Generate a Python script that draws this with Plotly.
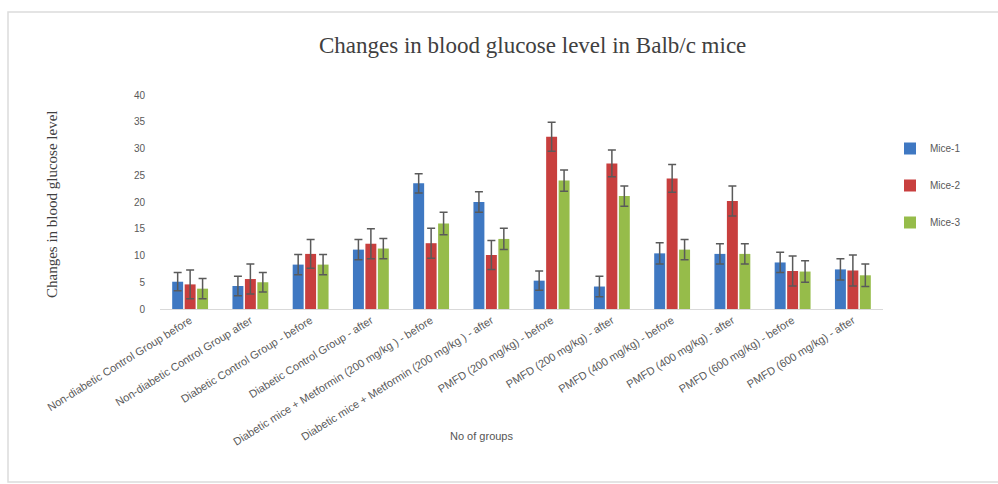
import plotly.graph_objects as go

# Treatment groups (x-axis categories)
groups = [
    "Non-diabetic Control Group before",
    "Non-diabetic Control Group after",
    "Diabetic Control Group - before",
    "Diabetic Control Group - after",
    "Diabetic mice + Metformin (200 mg/kg ) - before",
    "Diabetic mice + Metformin (200 mg/kg ) - after",
    "PMFD (200 mg/kg) - before",
    "PMFD (200 mg/kg) - after",
    "PMFD (400 mg/kg) - before",
    "PMFD (400 mg/kg) - after",
    "PMFD (600 mg/kg) - before",
    "PMFD (600 mg/kg) - after",
]

# Blood glucose changes per mouse
mice_1 = [5.1, 4.3, 8.3, 11.1, 23.5, 20.0, 5.3, 4.2, 10.4, 10.3, 8.7, 7.4]
mice_2 = [4.6, 5.6, 10.3, 12.2, 12.3, 10.1, 32.2, 27.2, 24.4, 20.2, 7.1, 7.2]
mice_3 = [3.8, 5.0, 8.3, 11.3, 16.0, 13.1, 24.0, 21.1, 11.1, 10.3, 7.0, 6.3]

# Error bar magnitudes
err_1 = [1.7, 1.8, 1.9, 1.9, 1.8, 1.9, 1.8, 1.9, 2.0, 1.9, 1.9, 2.0]
err_2 = [2.7, 2.8, 2.7, 2.8, 2.8, 2.7, 2.7, 2.5, 2.6, 2.8, 2.8, 2.9]
err_3 = [1.9, 1.8, 1.9, 1.9, 2.1, 2.0, 2.0, 1.9, 1.9, 1.9, 2.0, 2.1]

series_names = ["Mice-1", "Mice-2", "Mice-3"]
series_values = [mice_1, mice_2, mice_3]
series_errors = [err_1, err_2, err_3]
series_colors = ["#3F78C2", "#C83F3E", "#96BC4A"]

W, H = 998, 484
PLOT_L, PLOT_R, PLOT_T, PLOT_B = 160, 883, 95, 309

fig = go.Figure()
for name, vals, errs, col in zip(series_names, series_values, series_errors, series_colors):
    fig.add_trace(go.Bar(
        name=name,
        x=groups,
        y=vals,
        marker=dict(color=col, line=dict(width=0)),
        error_y=dict(type="data", array=errs, visible=True,
                     color="#5a5a5a", thickness=1.5, width=4),
        legendgroup=name,
    ))


def px_x(p):
    return (p - PLOT_L) / (PLOT_R - PLOT_L)


def px_y(p):
    return (PLOT_B - p) / (PLOT_B - PLOT_T)


# outer chart frame
fig.add_shape(type="rect", xref="paper", yref="paper",
              x0=px_x(8), x1=px_x(1004), y0=px_y(482), y1=px_y(12),
              line=dict(color="#dcdcdc", width=1.5), fillcolor="rgba(0,0,0,0)",
              layer="below")

fig.add_annotation(text="Changes in blood glucose level in Balb/c mice",
                   xref="paper", yref="paper", x=px_x(532), y=px_y(46),
                   showarrow=False, xanchor="center", yanchor="middle",
                   font=dict(family="Liberation Serif", size=23, color="#404040"))

fig.add_annotation(text="Changes in blood glucose level",
                   xref="paper", yref="paper", x=px_x(52), y=px_y(205),
                   showarrow=False, textangle=-90, xanchor="center", yanchor="middle",
                   font=dict(family="Liberation Serif", size=15, color="#404040"))

fig.add_annotation(text="No of groups",
                   xref="paper", yref="paper", x=px_x(481), y=px_y(436),
                   showarrow=False, xanchor="center", yanchor="middle",
                   font=dict(family="Liberation Sans", size=11, color="#555555"))

fig.update_layout(
    width=W, height=H,
    margin=dict(l=PLOT_L, r=W - PLOT_R, t=PLOT_T, b=H - PLOT_B, autoexpand=False),
    paper_bgcolor="white", plot_bgcolor="white",
    barmode="group", bargap=0.38, bargroupgap=0.12,
    showlegend=True,
    legend=dict(x=px_x(890), y=px_y(134), xanchor="left", yanchor="top",
                font=dict(family="Liberation Sans", size=10, color="#595959"),
                tracegroupgap=18, itemwidth=30, bgcolor="rgba(0,0,0,0)"),
    font=dict(family="Liberation Sans", color="#595959"),
)

fig.update_xaxes(tickangle=-32, tickfont=dict(size=11, color="#595959"),
                 showline=True, linecolor="#d9d9d9", linewidth=1,
                 ticks="", showgrid=False)
fig.update_yaxes(range=[0, 40], dtick=5, showgrid=False, zeroline=False,
                 showline=False, ticks="", ticklabelstandoff=14,
                 tickfont=dict(size=10, color="#595959"))

fig.write_html("out.html")
